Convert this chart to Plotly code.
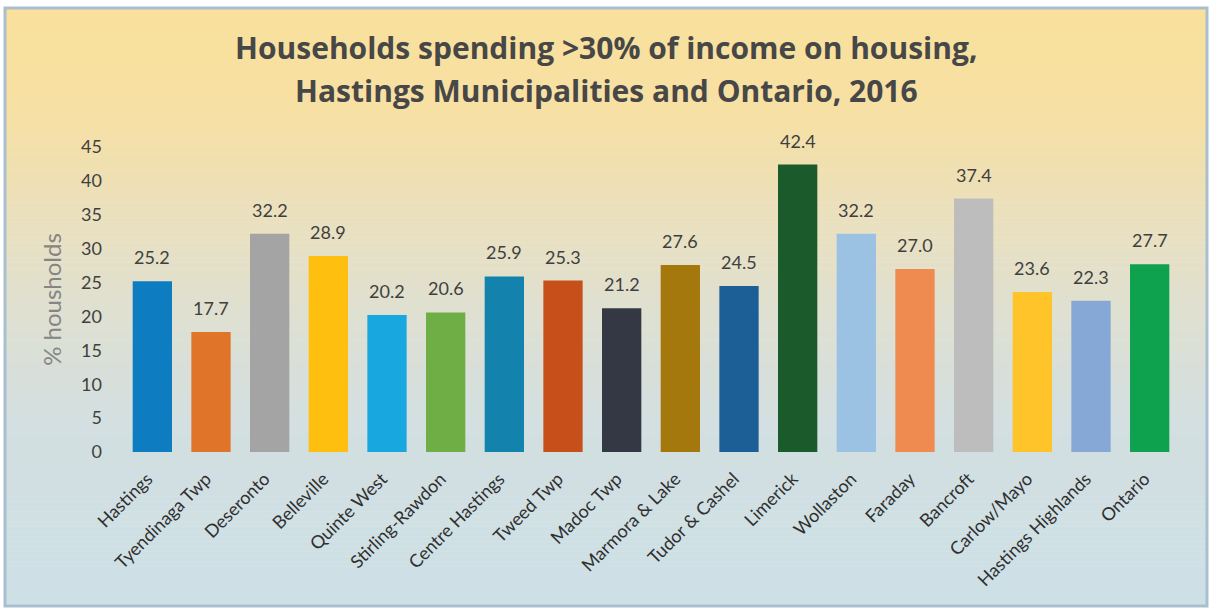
import numpy as np
import plotly.graph_objects as go

# Share of households spending more than 30% of income on housing (2016)
municipalities = [
    "Hastings", "Tyendinaga Twp", "Deseronto", "Belleville", "Quinte West",
    "Stirling-Rawdon", "Centre Hastings", "Tweed Twp", "Madoc Twp",
    "Marmora & Lake", "Tudor & Cashel", "Limerick", "Wollaston", "Faraday",
    "Bancroft", "Carlow/Mayo", "Hastings Highlands", "Ontario",
]
pct_households = [
    25.2, 17.7, 32.2, 28.9, 20.2, 20.6, 25.9, 25.3, 21.2,
    27.6, 24.5, 42.4, 32.2, 27.0, 37.4, 23.6, 22.3, 27.7,
]
bar_colors = [
    "#0e7cc1", "#e07428", "#a4a4a4", "#ffbf0f", "#18a7df", "#6fae45",
    "#1383ad", "#c7501a", "#343845", "#a4780c", "#1c5f97", "#1b5a2a",
    "#9cc2e3", "#ef8b50", "#bdbdbd", "#ffc42a", "#86a8d6", "#0ea24e",
]
y_ticks = [0, 5, 10, 15, 20, 25, 30, 35, 40, 45]

W, H = 1212, 612
L, R, T, B = 123, 33, 147, 160
PW, PH = W - L - R, H - T - B


def px_x(px):
    return (px - L) / PW


def px_y(py):
    return (H - B - py) / PH


FONT = "Lato, 'Open Sans', sans-serif"
TITLE_FONT = "'Open Sans', Lato, sans-serif"
TEXT = "#3f3f3f"

fig = go.Figure(
    go.Bar(
        x=municipalities,
        y=pct_households,
        marker=dict(color=bar_colors, line=dict(width=0)),
        hoverinfo="skip",
    )
)

# Card background: warm yellow at the top fading to pale blue at the bottom
shapes = []
stops_y = [8, 120, 200, 300, 420, 606]
stops_c = [
    (249, 225, 156), (246, 224, 164), (236, 224, 186),
    (224, 224, 207), (211, 223, 224), (205, 224, 230),
]
n_bands = 120
edges = np.linspace(8, 606, n_bands + 1)
for i in range(n_bands):
    y0, y1 = edges[i], edges[i + 1]
    mid = (y0 + y1) / 2
    rgb = [int(round(np.interp(mid, stops_y, [c[k] for c in stops_c]))) for k in range(3)]
    shapes.append(dict(
        type="rect", layer="below", xref="paper", yref="paper",
        x0=px_x(6), x1=px_x(1206), y0=px_y(y1 + 0.5), y1=px_y(y0),
        fillcolor=f"rgb({rgb[0]},{rgb[1]},{rgb[2]})", line=dict(width=0),
    ))
# frame
shapes.append(dict(
    type="rect", layer="below", xref="paper", yref="paper",
    x0=px_x(5), x1=px_x(1207), y0=px_y(606), y1=px_y(8),
    fillcolor="rgba(0,0,0,0)", line=dict(color="#a9bfcf", width=3),
))

annotations = [
    dict(text="<b>Households spending >30% of income on housing,</b>",
         x=px_x(606), y=px_y(47), xref="paper", yref="paper",
         xanchor="center", yanchor="middle", showarrow=False,
         font=dict(family=TITLE_FONT, size=30, color="#474747")),
    dict(text="<b>Hastings Municipalities and Ontario, 2016</b>",
         x=px_x(606), y=px_y(90), xref="paper", yref="paper",
         xanchor="center", yanchor="middle", showarrow=False,
         font=dict(family=TITLE_FONT, size=30, color="#474747")),
]

# value labels above each bar
for name, val in zip(municipalities, pct_households):
    annotations.append(dict(
        text=f"{val:.1f}", x=name, y=val, xref="x", yref="y",
        xanchor="center", yanchor="bottom", yshift=11, showarrow=False,
        font=dict(family=FONT, size=18, color=TEXT),
    ))

fig.update_layout(
    width=W, height=H,
    margin=dict(l=L, r=R, t=T, b=B, autoexpand=False),
    paper_bgcolor="white",
    plot_bgcolor="rgba(0,0,0,0)",
    bargap=0.33,
    showlegend=False,
    shapes=shapes,
    annotations=annotations,
    font=dict(family=FONT, color=TEXT),
)
fig.update_xaxes(
    type="category",
    tickangle=-45,
    tickfont=dict(family=FONT, size=18, color="#303030"),
    showgrid=False, zeroline=False, showline=False,
    ticks="", ticklabelstandoff=12, ticklabelshift=-5,
)
fig.update_yaxes(
    range=[0, 45],
    tickvals=y_ticks,
    ticktext=[str(t) for t in y_ticks],
    tickfont=dict(family=FONT, size=18, color=TEXT),
    showgrid=False, zeroline=False, showline=False,
    ticks="", ticklabelstandoff=20,
    title=dict(text="% housholds", standoff=12,
               font=dict(family=FONT, size=24, color="#858585")),
)

fig.write_html("out.html")
